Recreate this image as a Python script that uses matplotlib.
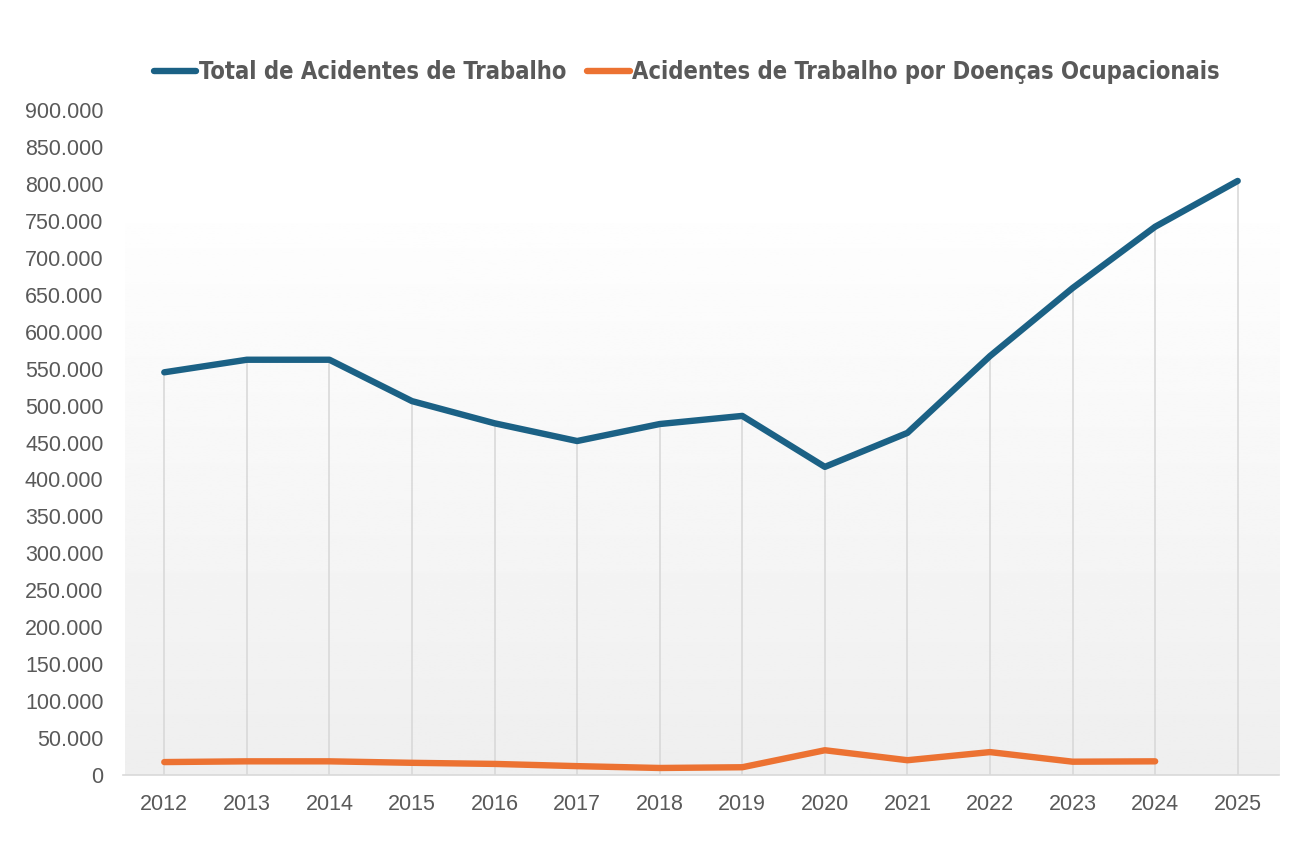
import numpy as np
import matplotlib.pyplot as plt
from matplotlib.ticker import FuncFormatter

# values
anos = ['2012', '2013', '2014', '2015', '2016', '2017', '2018',
        '2019', '2020', '2021', '2022', '2023', '2024', '2025']
total_acidentes = [545000, 562000, 562000, 506000, 476000, 452000, 475000,
                   486000, 417000, 463000, 567000, 659000, 742000, 804000]
doencas_ocup = [17500, 18500, 18500, 16500, 15000, 12000, 9500,
                10500, 33500, 20000, 31000, 18000, 18500]

cor_total = '#1b6185'
cor_doenca = '#ec7232'
cinza = '#595959'

fig = plt.figure(figsize=(13.03, 8.68), dpi=100)

# gradient behind the plot area
bg = fig.add_axes([125 / 1303, 1 - 775 / 868, (1280 - 125) / 1303, (775 - 223) / 868])
grad = np.linspace(0.995, 0.935, 256).reshape(-1, 1)
bg.imshow(np.repeat(grad, 2, axis=1), cmap='gray', vmin=0, vmax=1,
          aspect='auto', extent=[0, 1, 0, 1])
bg.axis('off')

ax = fig.add_axes([123 / 1303, 1 - 775 / 868, (1279 - 123) / 1303, (775 - 110) / 868])
ax.patch.set_alpha(0)

x = np.arange(len(anos))

# drop lines from each point down to the axis
topo = [max(total_acidentes[i], doencas_ocup[i] if i < len(doencas_ocup) else 0)
        for i in range(len(anos))]
ax.vlines(x, 0, topo, color='#d9d9d9', linewidth=1.2, zorder=1)

ax.plot(x, total_acidentes, color=cor_total, linewidth=4.6,
        solid_capstyle='round', solid_joinstyle='round', zorder=3,
        label='Total de Acidentes de Trabalho')
ax.plot(x[:len(doencas_ocup)], doencas_ocup, color=cor_doenca, linewidth=4.6,
        solid_capstyle='round', solid_joinstyle='round', zorder=3,
        label='Acidentes de Trabalho por Doenças Ocupacionais')

ax.set_xlim(-0.5, len(anos) - 0.5)
ax.set_ylim(0, 900000)
ax.set_yticks(np.arange(0, 900001, 50000))
ax.yaxis.set_major_formatter(FuncFormatter(
    lambda v, p: '0' if v == 0 else f'{int(v):,}'.replace(',', '.')))
ax.set_xticks(x)
ax.set_xticklabels(anos)

for s in ['top', 'right', 'left']:
    ax.spines[s].set_visible(False)
ax.spines['bottom'].set_color('#d9d9d9')
ax.spines['bottom'].set_linewidth(1.2)
ax.tick_params(axis='both', length=0, labelsize=15.5, colors=cinza,
               labelfontfamily='Liberation Sans')
ax.tick_params(axis='y', pad=14)
ax.tick_params(axis='x', pad=14)

leg = fig.legend(loc='center', bbox_to_anchor=(0.527, 1 - 72 / 868), ncol=2,
                 frameon=False, handlelength=1.8, handletextpad=0.1,
                 columnspacing=0.9,
                 prop={'family': 'DejaVu Sans', 'stretch': 'condensed',
                       'weight': 'bold', 'size': 17})
for t in leg.get_texts():
    t.set_color(cinza)

fig.savefig('out.png', dpi=100)
